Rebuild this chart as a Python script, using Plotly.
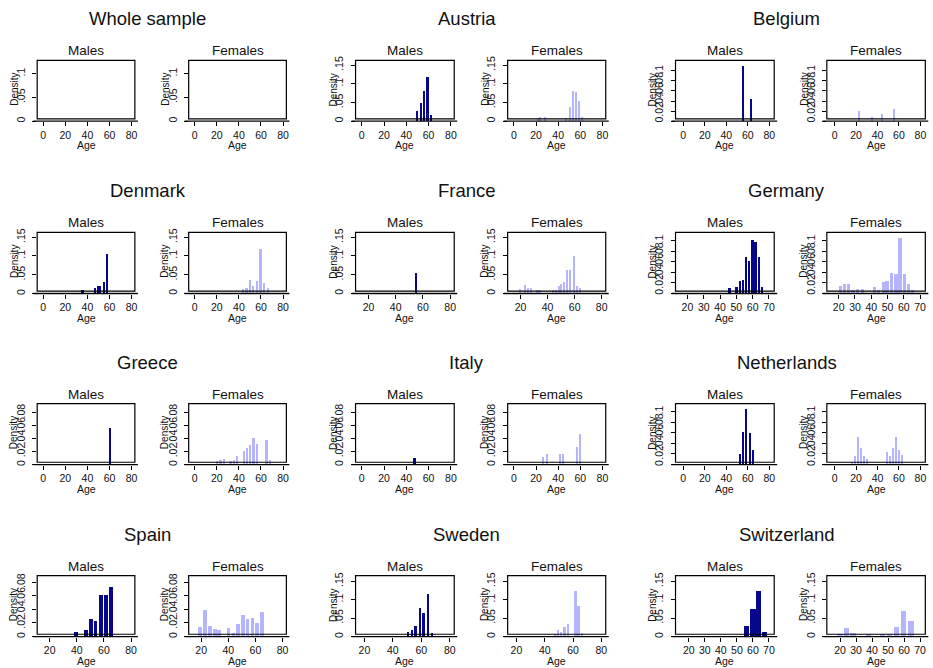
import plotly.graph_objects as go

# ---------------- data ----------------
countries = ["Whole sample", "Austria", "Belgium", "Denmark", "France", "Germany",
             "Greece", "Italy", "Netherlands", "Spain", "Sweden", "Switzerland"]
sexes = ["Males", "Females"]

whole_m_age = []
whole_m_den = []
whole_f_age = []
whole_f_den = []
austria_m_age = [49.3, 52.5, 55.2, 58.5, 61.8]
austria_m_den = [0.027, 0.049, 0.081, 0.118, 0.015]
austria_f_age = [21.5, 23.2, 28.0, 47.0, 50.4, 53.4, 56.2, 58.9, 61.6]
austria_f_den = [0.008, 0.010, 0.010, 0.007, 0.037, 0.081, 0.076, 0.052, 0.010]
belgium_m_age = [55.5, 62.7]
belgium_m_den = [0.110, 0.043]
belgium_f_age = [23.1, 34.8, 44.0, 55.4]
belgium_f_den = [0.020, 0.008, 0.014, 0.024]
denmark_m_age = [36.0, 47.3, 49.7, 52.1, 55.1, 58.1]
denmark_m_den = [0.009, 0.015, 0.020, 0.020, 0.031, 0.105]
denmark_f_age = [43.8, 46.8, 49.8, 52.8, 56.5, 59.5, 62.8, 66.4]
denmark_f_den = [0.012, 0.015, 0.035, 0.020, 0.033, 0.117, 0.026, 0.015]
france_m_age = [54.3]
france_m_den = [0.055]
france_f_age = [19.5, 23.2, 25.4, 27.6, 32.5, 34.4, 43.8, 46.0, 48.2, 50.1, 52.3, 54.5, 56.7, 59.2, 61.6, 64.1]
france_f_den = [0.012, 0.023, 0.013, 0.013, 0.008, 0.008, 0.009, 0.009, 0.018, 0.024, 0.029, 0.062, 0.062, 0.100, 0.018, 0.013]
germany_m_age = [45.5, 49.8, 51.8, 53.7, 55.5, 57.6, 59.6, 61.4, 63.5, 65.3]
germany_m_den = [0.009, 0.012, 0.024, 0.025, 0.069, 0.061, 0.100, 0.097, 0.069, 0.011]
germany_f_age = [21.0, 23.5, 25.9, 28.6, 31.6, 34.3, 41.8, 44.5, 47.3, 49.6, 52.4, 55.1, 57.6, 60.2, 62.9, 65.3]
germany_f_den = [0.014, 0.0175, 0.0175, 0.006, 0.008, 0.008, 0.011, 0.006, 0.021, 0.023, 0.039, 0.036, 0.104, 0.036, 0.0175, 0.006]
greece_m_age = [60.5]
greece_m_den = [0.057]
greece_f_age = [20.2, 23.2, 26.3, 32.3, 35.3, 38.0, 44.4, 47.1, 50.1, 53.1, 56.2, 64.9, 67.9]
greece_f_den = [0.0056, 0.0077, 0.0097, 0.0056, 0.0077, 0.0133, 0.022, 0.026, 0.031, 0.041, 0.032, 0.039, 0.008]
italy_m_age = [47.2]
italy_m_den = [0.011]
italy_f_age = [26.6, 29.6, 41.7, 44.7, 56.8, 59.8]
italy_f_den = [0.012, 0.016, 0.016, 0.016, 0.028, 0.047]
netherlands_m_age = [52.3, 55.1, 58.2, 61.5, 64.6]
netherlands_m_den = [0.021, 0.063, 0.105, 0.061, 0.029]
netherlands_f_age = [16.3, 19.1, 22.2, 24.9, 27.7, 30.5, 49.2, 52.0, 54.8, 57.5, 60.3, 63.1]
netherlands_f_den = [0.005, 0.016, 0.052, 0.032, 0.016, 0.011, 0.024, 0.016, 0.032, 0.052, 0.028, 0.019]
spain_m_age = [39.6, 46.9, 50.4, 54.0, 58.0, 61.6, 65.3]
spain_m_den = [0.0068, 0.0107, 0.027, 0.024, 0.062, 0.0615, 0.073]
spain_f_age = [19.0, 22.7, 26.4, 29.8, 33.0, 39.8, 43.5, 46.9, 50.6, 54.0, 57.5, 60.9, 64.6]
spain_f_den = [0.0146, 0.039, 0.0166, 0.0122, 0.0102, 0.0137, 0.0059, 0.019, 0.0327, 0.0264, 0.0283, 0.020, 0.037]
sweden_m_age = [50.4, 53.2, 55.7, 58.8, 61.3, 64.4, 67.2]
sweden_m_den = [0.0126, 0.018, 0.0305, 0.078, 0.065, 0.117, 0.011]
sweden_f_age = [47.0, 49.3, 51.6, 54.0, 56.3, 61.5, 63.8, 66.2]
sweden_f_den = [0.009, 0.0198, 0.0126, 0.028, 0.034, 0.123, 0.084, 0.011]
switzerland_m_age = [55.5, 59.7, 63.2, 67.1]
switzerland_m_den = [0.029, 0.0746, 0.123, 0.0135]
switzerland_f_age = [19.8, 23.75, 27.9, 37.5, 46.5, 50.8, 55.2, 59.4, 64.2]
switzerland_f_den = [0.009, 0.024, 0.011, 0.008, 0.008, 0.008, 0.026, 0.071, 0.043]

# tick labels
x_ticks_0_80 = [0, 20, 40, 60, 80]
x_ticks_20_80 = [20, 40, 60, 80]
x_ticks_20_70 = [20, 30, 40, 50, 60, 70]
y_ticks_a = [0, 0.05, 0.1]
y_ticks_b = [0, 0.05, 0.1, 0.15]
y_ticks_c = [0, 0.02, 0.04, 0.06, 0.08, 0.1]
y_ticks_d = [0, 0.02, 0.04, 0.06, 0.08]

series = [
    (whole_m_age, whole_m_den, whole_f_age, whole_f_den),
    (austria_m_age, austria_m_den, austria_f_age, austria_f_den),
    (belgium_m_age, belgium_m_den, belgium_f_age, belgium_f_den),
    (denmark_m_age, denmark_m_den, denmark_f_age, denmark_f_den),
    (france_m_age, france_m_den, france_f_age, france_f_den),
    (germany_m_age, germany_m_den, germany_f_age, germany_f_den),
    (greece_m_age, greece_m_den, greece_f_age, greece_f_den),
    (italy_m_age, italy_m_den, italy_f_age, italy_f_den),
    (netherlands_m_age, netherlands_m_den, netherlands_f_age, netherlands_f_den),
    (spain_m_age, spain_m_den, spain_f_age, spain_f_den),
    (sweden_m_age, sweden_m_den, sweden_f_age, sweden_f_den),
    (switzerland_m_age, switzerland_m_den, switzerland_f_age, switzerland_f_den),
]
x_ticks = [x_ticks_0_80, x_ticks_0_80, x_ticks_0_80, x_ticks_0_80, x_ticks_20_80, x_ticks_20_70,
           x_ticks_0_80, x_ticks_0_80, x_ticks_0_80, x_ticks_20_80, x_ticks_20_80, x_ticks_20_70]
y_ticks = [y_ticks_a, y_ticks_b, y_ticks_c, y_ticks_b, y_ticks_b, y_ticks_c,
           y_ticks_d, y_ticks_d, y_ticks_c, y_ticks_d, y_ticks_b, y_ticks_b]

# ---------------- styles / geometry ----------------
W, H = 933, 668
FONT = "Liberation Sans, Arial, sans-serif"
COLORS = ["#07078C", "#B4B4FF"]

x_ranges = [(-5.5, 83), (-5.6, 83), (-7.2, 84.6), (-5.5, 83), (10.5, 83), (12.7, 73.2),
            (-5.5, 83), (-5.6, 83), (-7.2, 84.6), (10.8, 82.8), (13.8, 83.1), (11.7, 73.3)]
y_tops = [0.128, 0.163, 0.121, 0.163, 0.163, 0.116, 0.094, 0.094, 0.115, 0.0897, 0.165, 0.165]
bar_w = [(1, 1), (2.0, 1.4), (1.5, 1.2), (1.6, 1.5), (1.5, 1.2), (1.35, 2.0),
         (1.5, 1.7), (1.5, 1.3), (2.1, 1.6), (2.7, 2.6), (1.9, 1.4), (3.3, 3.3)]

col_px = [[(37.3, 135.3), (189.3, 287.3)],
          [(356.7, 455.7), (509.3, 607.7)],
          [(677.7, 776.7), (829.5, 928.3)]]
row_px = [(56.7, 115.7, 118.0), (230.0, 289.3, 291.7), (402.7, 461.7, 464.0), (576.0, 635.0, 637.3)]
title_y = [15, 188, 361.7, 535]
sub_y = [47, 220, 393, 566.7]
title_x = [148, 468.5, 789.5]
dens_x = [[14.3, 165.7], [335, 486.7], [655, 806.7]]


def px(x):
    return x / W


def py(y):
    return 1 - y / H


fig = go.Figure()
layout = dict(width=W, height=H, margin=dict(l=0, r=0, t=0, b=0),
              paper_bgcolor="white", plot_bgcolor="white", showlegend=False,
              bargap=0, font=dict(family=FONT, color="black"))
shapes = []
annotations = []

for c, name in enumerate(countries):
    r, k = divmod(c, 3)
    T, B, A = row_px[r]
    annotations.append(dict(text=name, x=px(title_x[k]), y=py(title_y[r]), xref="paper", yref="paper",
                            showarrow=False, font=dict(size=18.5, family=FONT, color="#111"),
                            xanchor="center", yanchor="middle"))
    for s in range(2):
        n = c * 2 + s + 1
        xs = series[c][2 * s]
        ys = series[c][2 * s + 1]
        L, R = col_px[k][s]
        xa = "x" if n == 1 else f"x{n}"
        ya = "y" if n == 1 else f"y{n}"
        fig.add_trace(go.Bar(x=xs, y=ys, width=bar_w[c][s], marker=dict(color=COLORS[s], line=dict(width=0)),
                             xaxis=xa, yaxis=ya, hoverinfo="x+y"))
        xkey = "xaxis" if n == 1 else f"xaxis{n}"
        ykey = "yaxis" if n == 1 else f"yaxis{n}"
        layout[xkey] = dict(domain=[px(L), px(R)], anchor=ya, range=list(x_ranges[c]),
                            tickmode="array", tickvals=x_ticks[c], ticktext=[str(v) for v in x_ticks[c]],
                            ticks="outside", ticklen=4, tickwidth=1, tickcolor="black",
                            showline=False, showgrid=False, zeroline=False,
                            tickfont=dict(size=10.5, family=FONT, color="#111"))
        yt = y_ticks[c]
        ytext = ["0" if v == 0 else ("%g" % v).lstrip("0") for v in yt]
        layout[ykey] = dict(domain=[py(A), py(T)], anchor=xa, range=[0, y_tops[c]],
                            tickmode="array", tickvals=yt, ticktext=ytext, tickangle=-90,
                            ticks="outside", ticklen=4, tickwidth=1, tickcolor="black",
                            ticklabelstandoff=3,
                            showline=False, showgrid=False, zeroline=False,
                            tickfont=dict(size=10.5, family=FONT, color="#111"))
        # plot region box
        shapes.append(dict(type="rect", xref="paper", yref="paper", x0=px(L), x1=px(R), y0=py(B), y1=py(T),
                           line=dict(color="black", width=1.2), fillcolor="rgba(0,0,0,0)", layer="above"))
        # x axis line
        shapes.append(dict(type="line", xref="paper", yref="paper", x0=px(L - 4), x1=px(R + 3),
                           y0=py(A), y1=py(A), line=dict(color="black", width=1.3)))
        annotations.append(dict(text=sexes[s], x=px((L + R) / 2), y=py(sub_y[r]), xref="paper", yref="paper",
                                showarrow=False, font=dict(size=13.5, family=FONT, color="#111"),
                                xanchor="center", yanchor="middle"))
        annotations.append(dict(text="Age", x=px((L + R) / 2), y=py(A + 24.5), xref="paper", yref="paper",
                                showarrow=False, font=dict(size=10.5, family=FONT, color="#111"),
                                xanchor="center", yanchor="middle"))
        annotations.append(dict(text="Density", x=px(dens_x[k][s]), y=py((T + B) / 2), xref="paper",
                                yref="paper", showarrow=False, textangle=-90,
                                font=dict(size=10, family=FONT, color="#111"),
                                xanchor="center", yanchor="middle"))

layout["shapes"] = shapes
layout["annotations"] = annotations
fig.update_layout(**layout)
fig.write_html("out.html", config={"displayModeBar": False},
               post_script="document.body.style.margin='0';document.body.style.overflow='hidden';")
